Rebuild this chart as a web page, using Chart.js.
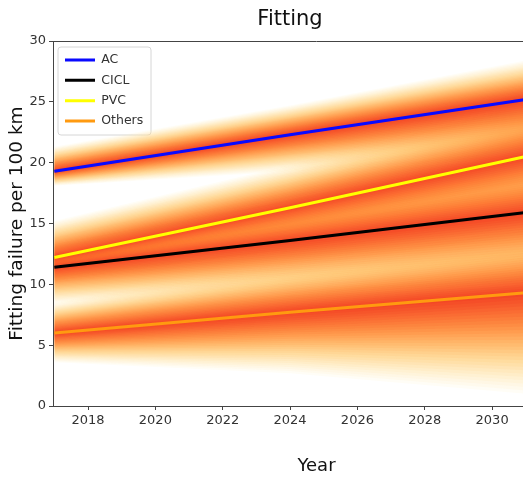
<!DOCTYPE html>
<html>
<head>
<meta charset="utf-8">
<script src="https://cdn.jsdelivr.net/npm/chart.js@4/dist/chart.umd.min.js"></script>
<style>
  html, body { margin: 0; padding: 0; background: #fff; overflow: hidden; width: 523px; height: 477px; }
  canvas { display: block; }
</style>
</head>
<body>
<canvas id="c" width="580" height="477"></canvas>
<script>
// ---- data ----
const years = [2017, 2024, 2031];
const seriesNames = ["AC", "CICL", "PVC", "Others"];
const acValues     = [19.3, 22.3, 25.2];
const ciclValues   = [11.4, 13.6, 15.9];
const pvcValues    = [12.2, 16.3, 20.5];
const othersValues = [6.0, 7.7, 9.3];
// outer half-widths of the uncertainty fans (above / below the line)
const acUp       = [2.0, 2.4, 3.2];
const acDown     = [1.2, 3.0, 5.0];
const ciclUp     = [2.0, 3.5, 5.0];
const ciclDown   = [3.0, 4.5, 6.0];
const pvcUp      = [3.0, 3.5, 4.5];
const pvcDown    = [2.0, 3.5, 5.0];
const othersUp   = [2.5, 4.0, 5.5];
const othersDown = [2.4, 5.0, 8.3];
const xTicks = [2018, 2020, 2022, 2024, 2026, 2028, 2030];
const yTicks = [0, 5, 10, 15, 20, 25, 30];

const lineColors = { AC: "#0a0aff", CICL: "#000000", PVC: "#ffff00", Others: "#ff9a10" };
const seriesData = {
  AC: { v: acValues, up: acUp, down: acDown },
  CICL: { v: ciclValues, up: ciclUp, down: ciclDown },
  PVC: { v: pvcValues, up: pvcUp, down: pvcDown },
  Others: { v: othersValues, up: othersUp, down: othersDown }
};

// colour ramp for fan levels (outer -> inner)
const ramp = [
  [0.0, [255, 238, 185]],
  [0.3, [255, 192, 100]],
  [0.6, [255, 122, 45]],
  [1.0, [236, 40, 30]]
];
function rampColor(t, a) {
  for (let i = 1; i < ramp.length; i++) {
    if (t <= ramp[i][0]) {
      const [t0, c0] = ramp[i - 1], [t1, c1] = ramp[i];
      const f = (t - t0) / (t1 - t0);
      const c = c0.map((v, j) => Math.round(v + (c1[j] - v) * f));
      return `rgba(${c[0]},${c[1]},${c[2]},${a})`;
    }
  }
  const c = ramp[ramp.length - 1][1];
  return `rgba(${c[0]},${c[1]},${c[2]},${a})`;
}

// fills are painted from the last dataset to the first, so the inner (red)
// levels of every series are pushed first and end up on top of all pale ones
const LEVELS = 30;
const datasets = [];
for (let i = LEVELS - 1; i >= 0; i--) {
  const k = (LEVELS - i) / LEVELS;
  const t = i / (LEVELS - 1);
  const col = rampColor(t, 0.12 + 0.08 * t);
  seriesNames.forEach(name => {
    const s = seriesData[name];
    datasets.push({
      label: name + "_band_u" + i,
      data: years.map((x, j) => ({ x, y: s.v[j] + k * s.up[j] })),
      fill: "+1", backgroundColor: col, borderWidth: 0, pointRadius: 0, order: 2
    });
    datasets.push({
      label: name + "_band_l" + i,
      data: years.map((x, j) => ({ x, y: s.v[j] - k * s.down[j] })),
      fill: false, backgroundColor: col, borderWidth: 0, pointRadius: 0, order: 2
    });
  });
}
seriesNames.forEach(name => {
  const s = seriesData[name];
  datasets.push({
    label: name,
    data: years.map((x, j) => ({ x, y: s.v[j] })),
    borderColor: lineColors[name], backgroundColor: lineColors[name],
    borderWidth: 3, pointRadius: 0, fill: false, tension: 0, order: 0
  });
});

const axisColor = "#444";
const extras = {
  id: "extras",
  afterLayout(chart) {
    const lg = chart.legend, a = chart.chartArea;
    if (lg) { lg.top = a.top + 5; lg.left = a.left + 4.2; }
  },
  beforeDraw(chart) {
    const { ctx, chartArea: a } = chart;
    ctx.save();
    const x = a.left + 5, y = a.top + 6, w = 93, h = 88, r = 3;
    ctx.beginPath();
    ctx.moveTo(x + r, y);
    ctx.arcTo(x + w, y, x + w, y + h, r);
    ctx.arcTo(x + w, y + h, x, y + h, r);
    ctx.arcTo(x, y + h, x, y, r);
    ctx.arcTo(x, y, x + w, y, r);
    ctx.closePath();
    ctx.fillStyle = "rgba(255,255,255,0.8)";
    ctx.fill();
    ctx.strokeStyle = "#d6d6d6";
    ctx.lineWidth = 1;
    ctx.stroke();
    ctx.restore();
  },
  afterDraw(chart) {
    const { ctx, chartArea: a } = chart;
    ctx.save();
    ctx.strokeStyle = axisColor;
    ctx.lineWidth = 1;
    ctx.beginPath();
    ctx.moveTo(a.left, a.top + 0.5);
    ctx.lineTo(a.right, a.top + 0.5);
    ctx.stroke();
    ctx.restore();
  }
};

new Chart(document.getElementById("c"), {
  type: "line",
  data: { datasets },
  plugins: [extras],
  options: {
    responsive: false,
    animation: false,
    devicePixelRatio: 1,
    layout: { padding: 0 },
    plugins: {
      filler: { drawTime: "beforeDatasetsDraw" },
      tooltip: { enabled: false },
      title: {
        display: true, text: "Fitting", color: "#111",
        font: { family: "DejaVu Sans", size: 21, weight: "normal" },
        padding: { top: 7.4, bottom: 8.4 }
      },
      legend: {
        display: true, position: "chartArea", align: "start",
        labels: {
          color: "#333",
          font: { family: "DejaVu Sans", size: 12.5 },
          boxWidth: 30, boxHeight: 3, padding: 7.8,
          filter: item => seriesNames.includes(item.text),
          generateLabels: chart => Chart.defaults.plugins.legend.labels.generateLabels(chart)
            .map(l => Object.assign(l, { lineWidth: 0 }))
        }
      }
    },
    scales: {
      x: {
        type: "linear", min: 2016.96, max: 2032.61,
        afterBuildTicks: s => { s.ticks = xTicks.map(v => ({ value: v })); },
        afterFit: s => { s.height = 71; },
        ticks: { color: "#333", font: { family: "DejaVu Sans", size: 13 }, padding: 3, maxRotation: 0, callback: v => String(v) },
        grid: { display: true, drawOnChartArea: false, drawTicks: true, tickLength: 4, color: axisColor },
        border: { display: true, color: axisColor, width: 1 },
        title: { display: true, text: "Year", color: "#111", font: { family: "DejaVu Sans", size: 18 }, padding: { top: 0, bottom: 0.2 } }
      },
      y: {
        type: "linear", min: 0, max: 30,
        afterBuildTicks: s => { s.ticks = yTicks.map(v => ({ value: v })); },
        afterFit: s => { s.width = 53; },
        ticks: { color: "#333", font: { family: "DejaVu Sans", size: 13 }, padding: 3 },
        grid: { display: true, drawOnChartArea: false, drawTicks: true, tickLength: 4, color: axisColor },
        border: { display: true, color: axisColor, width: 1 },
        title: { display: true, text: "Fitting failure per 100 km", color: "#111", font: { family: "DejaVu Sans", size: 18.5 }, padding: { top: 5.9, bottom: 0 } }
      }
    }
  }
});
</script>
</body>
</html>
